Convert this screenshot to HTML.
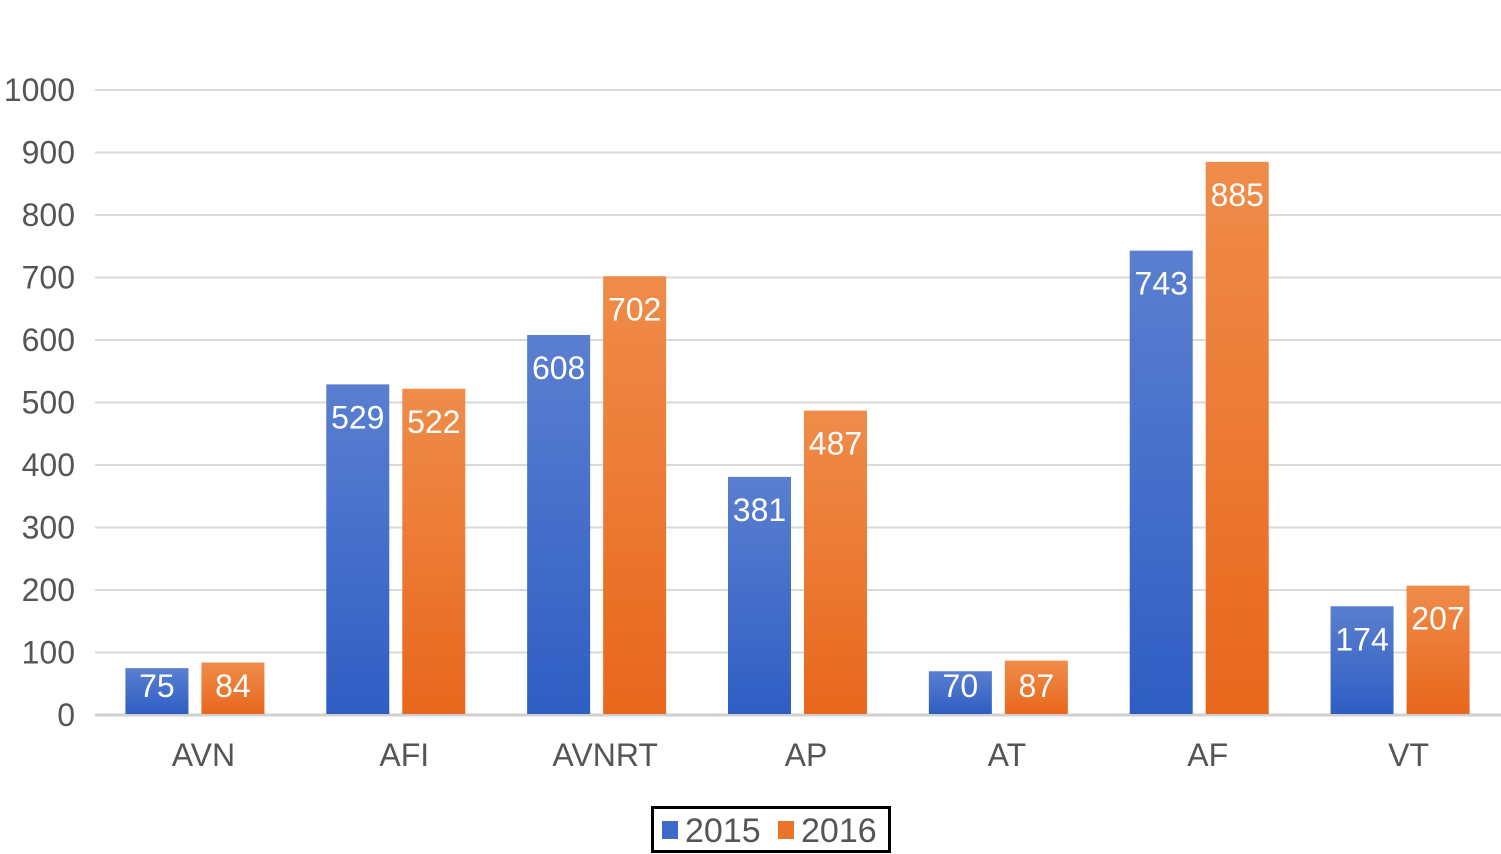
<!DOCTYPE html>
<html><head><meta charset="utf-8"><style>
body{margin:0;background:#fff;}
svg{display:block;font-family:"Liberation Sans",Arial,sans-serif;}
</style></head><body>
<svg id="chart" width="1501" height="854" viewBox="0 0 1501 854">
<defs>
<linearGradient id="gb" x1="0" y1="0" x2="0" y2="1"><stop offset="0" stop-color="#5a7fd0"/><stop offset="1" stop-color="#2f5ec3"/></linearGradient>
<linearGradient id="go" x1="0" y1="0" x2="0" y2="1"><stop offset="0" stop-color="#ef8c4a"/><stop offset="1" stop-color="#e8671c"/></linearGradient>
</defs>
<g id="grid"></g><g id="bars"></g><g id="labels"></g>
<g>
<rect x="652.5" y="807.5" width="237" height="44" fill="#fff" stroke="#000" stroke-width="3"/>
<rect x="662" y="821" width="16" height="18" fill="#3d69c9"/>
<text x="685" y="842" font-size="34" fill="#555">2015</text>
<rect x="778" y="821" width="16" height="18" fill="#ec7428"/>
<text x="801" y="842" font-size="34" fill="#555">2016</text>
</g>
</svg>
<script>
const categories=["AVN","AFI","AVNRT","AP","AT","AF","VT"];
const series2015=[75,529,608,381,70,743,174];
const series2016=[84,522,702,487,87,885,207];
const yTicks=[0,100,200,300,400,500,600,700,800,900,1000];
const NS="http://www.w3.org/2000/svg";
const x0=95,x1=1501,y0=715,y1=90,yMax=1000;
const y=v=>y0-(v/yMax)*(y0-y1);
const bw=(x1-x0)/categories.length;
const xc=i=>x0+bw*(i+0.5);
function mk(tag,attrs,parent){const e=document.createElementNS(NS,tag);for(const k in attrs)e.setAttribute(k,attrs[k]);parent.appendChild(e);return e;}
const grid=document.getElementById('grid'),bars=document.getElementById('bars'),labels=document.getElementById('labels');
yTicks.forEach(t=>{
 const l=mk('line',{x1:x0,x2:x1,y1:y(t),y2:y(t),stroke:t===0?'#d0d0d0':'#d9d9d9','stroke-width':t===0?3:2},grid);
 
 
 const tx=mk('text',{x:75,y:y(t)+11,'font-size':32,fill:'#555','text-anchor':'end'},grid);
 tx.textContent=t;
 
 
});
categories.forEach((c,i)=>{
 [[series2015,'url(#gb)',-70,'2015'],[series2016,'url(#go)',6,'2016']].forEach(([s,f,off,yr])=>{
  const v=s[i],bx=xc(i)+off;
  const r=mk('rect',{x:bx,y:y(v),width:63,height:y0-1-y(v),fill:f},bars);
  
  
  const t=mk('text',{x:bx+31.5,y:Math.min(y(v)+44,y0-18),'font-size':32,fill:'#fff','text-anchor':'middle'},labels);
  t.textContent=v;
  
  
 });
 const t=mk('text',{x:xc(i)+8,y:766,'font-size':32,fill:'#555','text-anchor':'middle'},labels);
 t.textContent=c;
 
 
});
</script>
</body></html>
